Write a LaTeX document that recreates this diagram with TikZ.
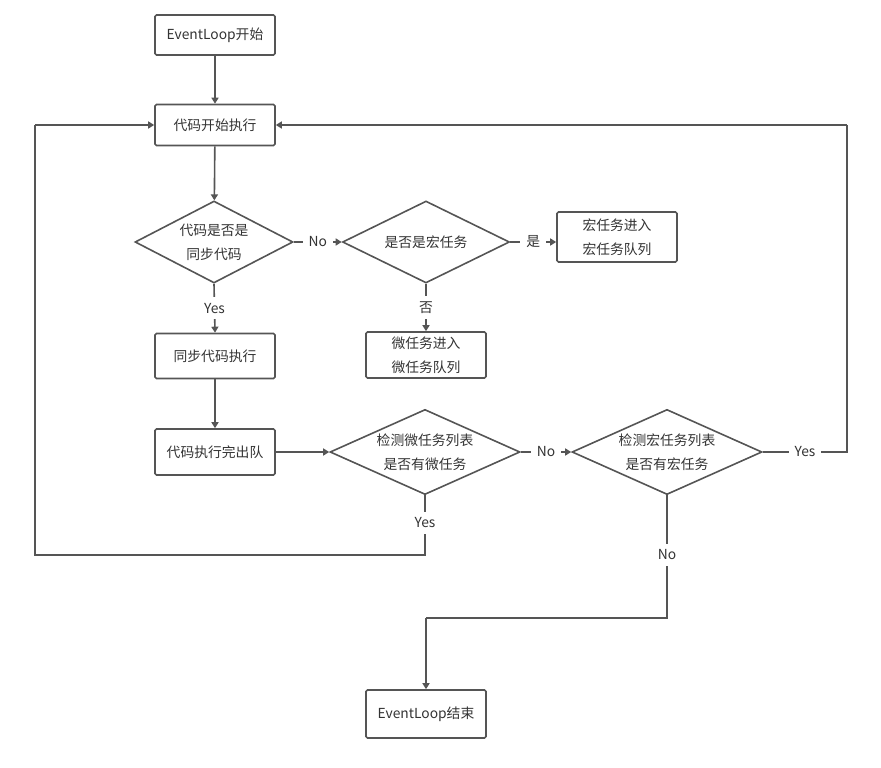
\documentclass[tikz,border=0pt]{standalone}
\usepackage{fontspec}
\setmainfont{Noto Sans CJK SC}
\usetikzlibrary{shapes.geometric,arrows.meta}
\definecolor{ln}{HTML}{555555}
\definecolor{tx}{HTML}{333333}
\begin{document}
\begin{tikzpicture}[x=1pt,y=-1pt,
  every node/.style={text=tx,font=\fontsize{13.8}{24}\selectfont},
  box/.style={draw=ln,line width=1.6pt,rounded corners=1.5pt,minimum width=120pt,inner sep=0pt,align=center},
  dia/.style={draw=ln,line width=1.6pt,diamond,aspect=2,inner sep=0pt,align=center},
  conn/.style={draw=ln,line width=1.6pt,-{Triangle[length=6pt,width=7pt]}},
  plain/.style={draw=ln,line width=1.6pt},
  lbl/.style={fill=white,inner sep=6pt}]
\useasboundingbox (0,0) rectangle (881,768);
\node[box,minimum height=40pt] (start) at (215,35) {EventLoop开始};
\node[box,minimum height=41pt] (exec) at (215,125) {代码开始执行};
\node[dia,minimum width=158pt,minimum height=82pt] (d1) at (214,242) {代码是否是\\同步代码};
\node[dia,minimum width=167pt,minimum height=82pt] (d2) at (426,242) {是否是宏任务};
\node[box,minimum height=50pt] (macro) at (617,237) {宏任务进入\\宏任务队列};
\node[box,minimum height=45pt] (sync) at (215,356) {同步代码执行};
\node[box,minimum height=46pt] (micro) at (426,355) {微任务进入\\微任务队列};
\node[box,minimum height=46pt] (deq) at (215,452) {代码执行完出队};
\node[dia,minimum width=190pt,minimum height=81pt] (d3) at (425,452) {检测微任务列表\\是否有微任务};
\node[dia,minimum width=190pt,minimum height=81pt] (d4) at (667,452) {检测宏任务列表\\是否有宏任务};
\node[box,minimum height=48pt] (end) at (426,714) {EventLoop结束};
\coordinate (c1) at (425,555);
\coordinate (c2) at (35,555);
\coordinate (c3) at (35,125);
\coordinate (c4) at (847,452);
\coordinate (c5) at (847,125);
\coordinate (c6) at (667,618);
\coordinate (c7) at (426,618);

\draw[conn] (start) -- (exec);
\draw[conn] (exec) -- (d1);
\draw[conn] (d1.east) -- node[lbl]{No} (d2.west);
\draw[conn] (d2.east) -- node[lbl]{是} (macro.west |- d2.east);
\draw[conn] (d1.south) -- node[lbl]{Yes} (sync.north);
\draw[conn] (d2.south) -- node[lbl]{否} (micro.north);
\draw[conn] (sync) -- (deq);
\draw[conn] (deq) -- (d3);
\draw[conn] (d3.east) -- node[lbl]{No} (d4.west);
\draw[plain] (d3.south) -- (c1) -- (c2) -- (c3);
\node[lbl] at (425,523) {Yes};
\draw[conn] (c3) -- (exec.west);
\draw[plain] (d4.east) -- (c4) -- (c5);
\node[lbl] at (805,452) {Yes};
\draw[conn] (c5) -- (exec.east);
\draw[plain] (d4.south) -- (c6) -- (c7);
\node[lbl] at (667,555) {No};
\draw[conn] (c7) -- (end.north);
\end{tikzpicture}
\end{document}
